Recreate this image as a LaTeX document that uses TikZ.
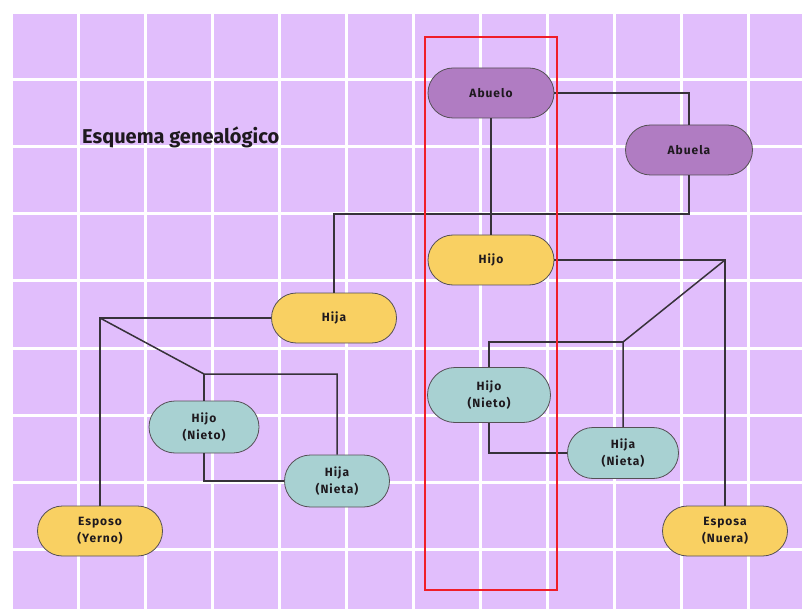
\documentclass[tikz,border=0pt]{standalone}
\usepackage{fontspec}
\setmainfont{Fira Sans}
\newfontfamily\nodofont[LetterSpace=8]{Fira Sans}
\usetikzlibrary{positioning, shapes.misc}
\tikzset{
	pill/.style = {
		rounded rectangle, draw={rgb,255:red,85; green,80; blue,85}, line width=0.8pt,
		minimum height=50pt, minimum width=129pt, align=center, inner sep=2pt,
		text={rgb,255:red,30; green,25; blue,30}
	},
	link/.style = {color={rgb,255:red,55; green,50; blue,58}, line width=1.5pt}
}

\begin{document}
\begin{tikzpicture}[x=1pt, y=-1pt]
	
	\useasboundingbox (0,0) rectangle (802,609);
	\tikzstyle{every node}=[font=\nodofont\bfseries\fontsize{12}{17}\selectfont]
	\fill [white] (0,0) rectangle (802,609);
	\fill [color={rgb,255:red,225; green,190; blue,252}] (10,13) rectangle (802,609);
	\foreach \i in {0,...,11} \draw [white, line width=3pt] (11+67*\i,13) -- (11+67*\i,609);
	\foreach \j in {0,...,8} \draw [white, line width=3pt] (10,13+67*\j) -- (802,13+67*\j);
	
	\node [font=\bfseries\fontsize{20}{24}\selectfont, anchor=west, inner sep=0pt, text={rgb,255:red,30; green,25; blue,30}] (titulo) at (82,137) {Esquema genealógico};
	
	\node [pill, fill={rgb,255:red,176; green,124; blue,194}, minimum width=130pt] (abuelo) at (491,93) {Abuelo};
	\node [pill, fill={rgb,255:red,176; green,124; blue,194}, minimum width=131pt] (abuela) at (689,150) {Abuela};
	\node [pill, fill={rgb,255:red,249; green,208; blue,98}, minimum width=130pt] (hijo) at (491,260) {Hijo};
	\node [pill, fill={rgb,255:red,249; green,208; blue,98}] (hija) at (334,318) {Hija};
	\node [pill, fill={rgb,255:red,249; green,208; blue,98}] (esposo) at (100,531) {Esposo\\(Yerno)};
	\node [pill, fill={rgb,255:red,249; green,208; blue,98}] (esposa) at (725,531) {Esposa\\(Nuera)};
	\node [pill, fill={rgb,255:red,168; green,209; blue,210}, minimum width=114pt, minimum height=52pt] (nietoI) at (204,427) {Hijo\\(Nieto)};
	\node [pill, fill={rgb,255:red,168; green,209; blue,210}, minimum width=109pt, minimum height=52pt] (nietaI) at (337,481) {Hija\\(Nieta)};
	\node [pill, fill={rgb,255:red,168; green,209; blue,210}, minimum width=127pt, minimum height=55pt] (nietoD) at (489,395) {Hijo\\(Nieto)};
	\node [pill, fill={rgb,255:red,168; green,209; blue,210}, minimum width=115pt, minimum height=51pt] (nietaD) at (623,453) {Hija\\(Nieta)};
	
	% abuelos
	\coordinate (ramaA) at (334,214);
	\draw [link] (abuelo.east) -| (abuela.north);
	\draw [link] (abuelo.south) -- (hijo.north);
	\draw [link] (abuela.south) |- (ramaA) -- (hija.north);
	
	% familia de la hija
	\coordinate (parejaI) at (esposo.north |- hija.west);
	\coordinate (hijosI) at (204,374);
	\draw [link] (hija.west) -- (parejaI) -- (esposo.north);
	\draw [link] (parejaI) -- (hijosI) -| (nietaI.north);
	\draw [link] (hijosI) -- (nietoI.north);
	\draw [link] (nietoI.south) |- (nietaI.west);
	
	% familia del hijo
	\coordinate (parejaD) at (esposa.north |- hijo.east);
	\coordinate (hijosD) at (623,342);
	\draw [link] (hijo.east) -- (parejaD) -- (esposa.north);
	\draw [link] (parejaD) -- (hijosD) -- (nietaD.north);
	\draw [link] (hijosD) -| (nietoD.north);
	\draw [link] (nietoD.south) |- (nietaD.west);
	
	\draw [color={rgb,255:red,240; green,30; blue,40}, line width=2pt] (425,37) rectangle (557,590);
	
\end{tikzpicture}
\end{document}
